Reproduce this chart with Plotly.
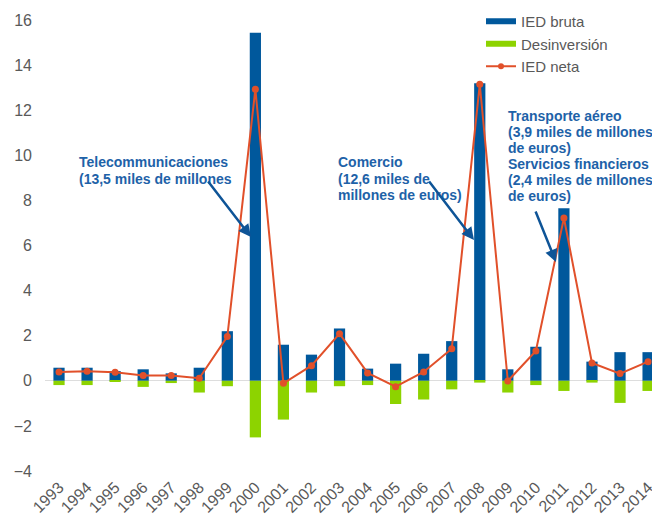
import plotly.graph_objects as go

years = [str(y) for y in range(1993, 2015)]
ied_bruta = [0.58, 0.58, 0.43, 0.51, 0.33, 0.58, 2.2, 15.43, 1.6, 1.16, 2.32,
             0.54, 0.76, 1.2, 1.76, 13.2, 0.51, 1.51, 7.65, 0.85, 1.27, 1.27]
desinversion = [-0.19, -0.19, -0.05, -0.27, -0.1, -0.52, -0.24, -2.51, -1.72, -0.52, -0.24,
                -0.19, -1.03, -0.83, -0.38, -0.08, -0.52, -0.19, -0.45, -0.08, -0.98, -0.45]
ied_neta = [0.39, 0.42, 0.38, 0.24, 0.23, 0.11, 1.96, 12.93, -0.11, 0.67, 2.09,
            0.35, -0.26, 0.39, 1.42, 13.15, -0.01, 1.32, 7.22, 0.79, 0.32, 0.85]
y_ticks = [-4, -2, 0, 2, 4, 6, 8, 10, 12, 14, 16]

BLUE = "#00589C"
GREEN = "#8DD300"
ORANGE = "#E1502A"
TXT_BLUE = "#1E62A8"
ARROW_BLUE = "#0E5497"
GRAY = "#595959"
FONT = "Arial, Liberation Sans, sans-serif"

W, H = 652, 518
ML, MR, MT, MB = 45, 0, 20, 47
PW, PH = W - ML - MR, H - MT - MB


def px(x):
    return (x - ML) / PW


def py(y):
    return (H - MB - y) / PH


fig = go.Figure()
fig.add_trace(go.Bar(x=years, y=ied_bruta, marker=dict(color=BLUE, line=dict(width=0)),
                     width=0.4, name="IED bruta", showlegend=False))
fig.add_trace(go.Bar(x=years, y=desinversion, marker=dict(color=GREEN, line=dict(width=0)),
                     width=0.4, name="Desinversión", showlegend=False))
fig.add_trace(go.Scatter(x=years, y=ied_neta, mode="lines+markers", name="IED neta",
                         line=dict(color=ORANGE, width=2), marker=dict(color=ORANGE, size=7),
                         showlegend=False, cliponaxis=False))
# legend entries
fig.add_trace(go.Scatter(x=[None], y=[None], mode="lines", name="IED bruta",
                         line=dict(color=BLUE, width=6)))
fig.add_trace(go.Scatter(x=[None], y=[None], mode="lines", name="Desinversión",
                         line=dict(color=GREEN, width=6)))
fig.add_trace(go.Scatter(x=[None], y=[None], mode="lines+markers", name="IED neta",
                         line=dict(color=ORANGE, width=2), marker=dict(color=ORANGE, size=6)))

annotations = []
blocks = [
    (77, [("Telecommunicaciones", 161.5), ("(13,5 miles de millones", 178.5)]),
    (336, [("Comercio", 162.5), ("(12,6 miles de", 178.5), ("millones de euros)", 194.5)]),
    (506, [("Transporte aéreo", 116), ("(3,9 miles de millones", 132), ("de euros)", 148),
           ("Servicios financieros", 164), ("(2,4 miles de millones", 180), ("de euros)", 196)]),
]
for x0, lines in blocks:
    for t, yy in lines:
        annotations.append(dict(x=px(x0), y=py(yy), xref="paper", yref="paper",
                                text="<b>" + t + "</b>", showarrow=False,
                                xanchor="left", yanchor="middle",
                                font=dict(family=FONT, size=14, color=TXT_BLUE)))

arrows = [((207, 180), (251, 237)), ((428, 180), (474, 240)), ((535, 210), (556, 262))]
for (tx, ty), (hx, hy) in arrows:
    annotations.append(dict(x=px(hx), y=py(hy), xref="paper", yref="paper",
                            ax=tx - hx, ay=ty - hy, axref="pixel", ayref="pixel",
                            text="", showarrow=True, arrowhead=2, arrowsize=1,
                            arrowwidth=2.5, arrowcolor=ARROW_BLUE))

fig.update_layout(
    width=W, height=H,
    margin=dict(l=ML, r=MR, t=MT, b=MB, autoexpand=False),
    paper_bgcolor="white", plot_bgcolor="white",
    barmode="relative",
    font=dict(family=FONT, color=GRAY),
    legend=dict(x=px(481), y=py(5), xanchor="left", yanchor="top",
                font=dict(family=FONT, size=15, color=GRAY),
                bgcolor="rgba(0,0,0,0)", tracegroupgap=0),
    annotations=annotations,
    xaxis=dict(range=[-0.5, 21.14], tickangle=-45, showgrid=False, showline=False,
               ticks="", tickfont=dict(size=16, color=GRAY), ticklabelstandoff=3,
               automargin=False),
    yaxis=dict(range=[-4, 16], tickvals=y_ticks, showgrid=False, showline=False,
               zeroline=True, zerolinecolor="#DDDDDD", zerolinewidth=1,
               ticks="", tickfont=dict(size=16, color=GRAY), ticklabelstandoff=12,
               automargin=False),
)

fig.write_html("out.html", config=dict(displayModeBar=False),
               post_script="document.body.style.margin='0';document.body.style.overflow='hidden';")
